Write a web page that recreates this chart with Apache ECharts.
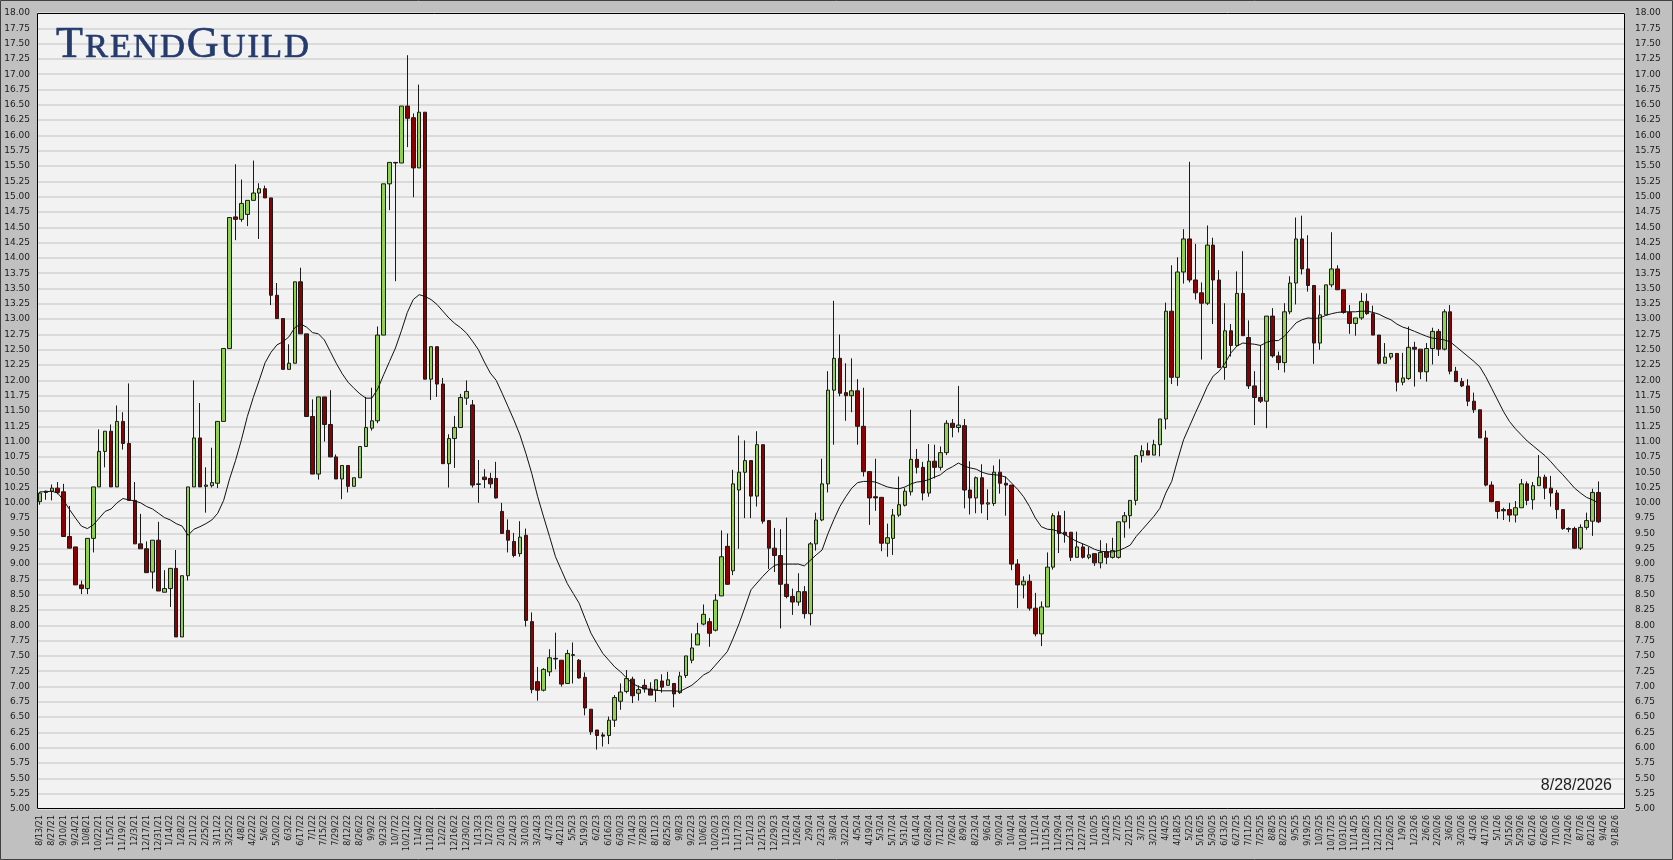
<!DOCTYPE html>
<html>
<head>
<meta charset="utf-8">
<script src="https://cdn.jsdelivr.net/npm/echarts@6/dist/echarts.min.js"></script>
<style>
html,body{margin:0;padding:0;background:#c0c0c0;}
#chart{width:1673px;height:860px;}
</style>
</head>
<body>
<div id="chart"></div>
<script>
// ---- Data (weekly candles, 8/13/21 .. 8/28/26) ----
const startDate = '2021-08-13';
const categoryCount = 268; // weekly slots through 9/25/26

const openValues = [
10.02,10.17,10.19,10.24,10.18,9.45,9.28,8.66,8.60,9.42,
10.26,10.84,11.17,10.26,11.33,10.97,10.04,9.33,9.25,8.87,
9.39,8.54,8.60,8.93,7.81,8.81,10.26,11.06,10.27,10.28,
10.32,11.33,12.52,14.67,14.63,14.71,14.94,15.06,15.13,14.98,
13.39,13.01,12.18,12.28,13.61,12.76,11.41,10.47,11.73,11.28,
10.75,10.39,10.61,10.27,10.41,10.92,11.22,11.34,12.74,15.21,
15.56,15.55,16.48,16.29,15.47,16.38,12.02,12.55,11.94,10.64,
11.05,11.23,11.71,11.60,10.30,10.42,10.40,10.40,9.86,9.55,
9.37,9.17,9.47,8.06,7.08,6.94,7.24,7.46,7.43,7.05,
7.52,7.43,7.15,6.63,6.29,6.21,6.20,6.45,6.76,6.92,
7.12,6.89,7.02,6.96,6.94,7.09,7.02,7.05,6.90,7.18,
7.43,7.68,8.02,8.06,7.92,8.48,9.29,8.89,10.21,10.50,
10.69,10.11,10.95,9.71,9.26,9.14,8.67,8.47,8.38,8.55,
8.19,9.33,9.72,10.31,11.84,12.36,11.80,11.75,11.83,11.25,
10.51,10.10,10.09,9.34,9.42,9.80,9.96,10.18,10.71,10.58,
10.16,10.68,10.58,10.82,11.30,11.23,11.26,10.21,10.08,10.41,
9.98,9.99,10.50,10.32,10.29,9.00,8.66,8.72,8.28,7.86,
8.30,8.95,9.79,9.52,9.52,9.11,9.28,9.11,9.17,9.02,
9.20,9.11,9.11,9.69,9.79,10.04,10.77,10.85,10.78,10.95,
11.37,13.13,12.05,13.77,14.31,13.64,13.43,13.26,14.21,13.64,
12.21,12.81,12.57,13.42,12.70,11.91,11.72,11.66,13.05,12.40,
12.29,13.12,13.59,14.31,13.82,13.55,12.61,13.07,13.56,13.82,
13.48,13.11,12.93,13.02,13.29,13.09,12.74,12.28,12.38,12.44,
11.97,12.03,12.54,12.51,12.14,12.52,12.80,12.51,13.12,12.15,
11.98,11.91,11.66,11.52,11.06,10.29,10.02,9.89,9.89,9.80,
9.92,10.31,10.05,10.28,10.42,10.24,10.16,9.89,9.58,9.58,
9.26,9.60,9.70,10.17];

const closeValues = [
10.16,10.19,10.24,10.17,9.45,9.26,8.66,8.60,9.42,10.26,
10.84,11.17,10.26,11.33,10.97,10.04,9.33,9.25,8.86,9.39,
8.56,8.60,8.93,7.81,8.81,10.26,11.06,10.26,10.29,10.33,
11.33,12.52,14.66,14.63,14.89,14.94,15.06,15.13,14.98,13.39,
13.01,12.18,12.28,13.61,12.76,11.41,10.47,11.73,11.28,10.75,
10.39,10.61,10.27,10.41,10.92,11.23,11.34,12.74,15.21,15.56,
15.55,16.48,16.28,15.47,16.38,12.02,12.55,11.94,10.64,11.05,
11.23,11.72,11.82,10.29,10.31,10.38,10.31,10.08,9.50,9.39,
9.14,9.44,8.08,6.95,6.94,7.28,7.47,7.45,7.04,7.54,
7.51,7.14,6.65,6.26,6.20,6.19,6.45,6.82,6.91,7.13,
6.85,6.95,6.96,6.86,7.11,6.99,7.11,6.88,7.17,7.50,
7.63,7.86,8.18,7.87,8.41,9.12,8.67,10.31,10.50,10.69,
10.11,10.95,9.70,9.26,9.14,8.67,8.47,8.38,8.55,8.19,
9.33,9.72,10.31,11.84,12.36,11.79,11.75,11.83,11.25,10.51,
10.08,10.08,9.34,9.43,9.80,9.97,10.19,10.71,10.58,10.16,
10.68,10.58,10.82,11.30,11.23,11.27,10.21,10.08,10.41,9.98,
10.00,10.50,10.32,10.29,9.00,8.66,8.72,8.28,7.86,8.30,
8.95,9.79,9.50,9.48,9.11,9.28,9.11,9.15,9.02,9.19,
9.11,9.22,9.69,9.79,10.04,10.77,10.85,10.78,10.95,11.37,
13.13,12.05,13.77,14.31,13.64,13.43,13.26,14.21,13.64,12.21,
12.81,12.57,13.42,12.73,11.91,11.72,11.66,13.05,12.40,12.29,
13.12,13.59,14.31,13.82,13.55,12.61,13.07,13.56,13.82,13.48,
13.11,12.93,13.02,13.29,13.09,12.74,12.28,12.38,12.44,11.97,
12.04,12.54,12.51,12.14,12.52,12.80,12.51,13.12,12.15,11.98,
11.91,11.66,11.52,11.06,10.29,10.02,9.86,9.87,9.80,9.92,
10.31,10.04,10.28,10.42,10.24,10.16,9.89,9.58,9.57,9.26,
9.60,9.71,10.17,9.69];

const lowValues = [
9.97,10.05,10.04,10.14,9.45,9.26,8.66,8.51,8.51,9.19,
10.26,10.58,10.26,10.26,10.87,10.04,9.33,9.25,8.86,8.60,
8.56,8.54,8.30,7.81,7.81,8.73,10.26,10.26,9.84,10.25,
10.24,11.33,12.52,14.29,14.59,14.52,14.94,14.31,14.98,13.23,
13.01,12.18,12.18,12.28,12.76,11.41,10.47,10.38,11.00,10.75,
10.39,10.06,10.17,10.27,10.41,10.92,11.18,11.30,12.74,14.78,
13.62,15.55,15.81,14.99,15.47,12.02,11.68,11.73,10.64,10.25,
10.57,11.23,11.60,10.25,10.00,10.24,10.24,10.07,9.50,9.19,
9.11,9.12,7.98,6.89,6.77,6.92,7.17,7.28,7.00,7.05,
7.05,7.13,6.53,6.21,5.97,6.02,6.06,6.34,6.62,6.89,
6.73,6.77,6.90,6.86,6.75,6.90,7.02,6.66,6.88,7.14,
7.38,7.68,8.00,7.65,7.90,8.48,8.66,8.82,9.25,9.75,
9.75,9.94,9.66,8.92,8.87,7.95,8.44,8.17,8.32,8.11,
8.00,9.22,9.70,10.17,10.95,11.74,11.34,11.48,10.95,10.43,
9.64,9.87,9.21,9.12,9.15,9.77,9.94,10.12,10.48,10.04,
10.10,10.40,10.53,10.78,11.07,11.15,9.91,9.81,9.83,9.83,
9.72,9.95,10.15,9.79,8.90,8.28,8.44,8.24,7.82,7.66,
8.30,8.91,9.18,9.35,9.05,9.11,9.09,9.08,8.97,8.93,
9.00,9.09,9.09,9.43,9.58,9.96,10.66,10.78,10.78,10.76,
11.20,11.94,11.91,13.58,13.60,13.32,12.34,13.23,12.92,12.21,
12.01,12.39,12.57,12.73,11.86,11.27,11.63,11.22,12.37,12.17,
12.13,13.08,13.24,13.73,13.45,12.27,12.50,13.07,13.52,13.48,
13.09,12.76,12.73,12.99,13.07,12.74,12.26,12.27,12.34,11.82,
11.92,12.01,11.90,12.02,11.98,12.26,12.40,12.49,12.10,11.98,
11.89,11.58,11.47,11.06,10.27,10.01,9.74,9.72,9.69,9.68,
9.92,9.96,9.89,10.28,10.06,9.94,9.74,9.56,9.52,9.25,
9.23,9.56,9.46,9.67];

const highValues = [
10.18,10.20,10.30,10.34,10.31,9.95,9.28,8.73,9.42,10.26,
11.20,11.17,11.28,11.59,11.48,11.95,10.34,9.82,9.37,9.39,
9.69,8.90,8.93,9.23,8.81,10.26,12.00,11.63,10.58,10.90,
11.33,12.52,14.66,15.53,15.28,14.94,15.59,15.22,15.18,14.98,
13.59,13.01,12.59,13.61,13.84,12.76,11.69,11.73,11.73,11.84,
10.79,10.61,10.61,10.41,10.92,11.73,11.88,12.88,15.21,15.56,
15.56,16.48,17.31,16.36,16.83,16.38,12.55,12.55,12.04,11.12,
11.42,11.78,12.00,11.68,10.70,10.55,10.49,10.67,10.00,9.73,
9.51,9.70,9.58,8.21,7.32,7.30,7.61,7.88,7.43,7.60,
7.72,7.45,7.23,6.63,6.29,6.25,6.51,6.86,7.05,7.27,
7.16,7.02,7.12,7.07,7.11,7.20,7.24,7.05,7.24,7.50,
7.87,8.04,8.34,8.12,8.51,9.55,9.50,10.54,11.10,11.02,
10.69,11.17,10.95,9.71,9.59,9.57,9.76,8.60,8.85,8.64,
9.36,9.84,10.72,12.15,13.30,12.75,12.28,12.36,12.02,11.88,
10.51,10.72,10.09,9.66,9.90,10.43,10.24,11.52,10.88,10.67,
10.96,10.95,10.92,11.35,11.37,11.91,11.37,10.68,10.43,10.63,
10.22,10.61,10.71,10.43,10.29,9.08,8.80,8.83,8.53,8.39,
9.19,9.83,9.86,9.87,9.52,9.53,9.34,9.28,9.17,9.39,
9.34,9.43,9.69,9.85,10.04,10.77,10.94,10.98,11.03,11.37,
13.27,13.88,14.01,14.47,15.57,14.23,13.60,14.53,14.33,13.80,
13.26,12.92,13.78,14.11,12.98,12.15,12.58,13.05,13.18,12.47,
13.26,13.70,14.66,14.69,14.37,13.55,13.39,13.56,14.42,13.88,
13.48,13.23,13.02,13.43,13.42,13.22,12.74,12.61,12.44,12.44,
12.45,12.88,12.63,12.51,12.61,12.86,12.84,13.16,13.23,12.22,
12.04,12.02,11.80,11.52,11.18,10.35,10.02,9.92,10.00,10.03,
10.39,10.35,10.34,10.78,10.46,10.44,10.21,9.89,9.60,9.61,
9.65,9.84,10.23,10.35];

const maValues = [
10.18,10.18,10.19,10.16,10.04,9.89,9.75,9.62,9.58,9.64,
9.75,9.86,9.90,10.00,10.07,10.05,10.03,10.00,9.94,9.90,
9.83,9.76,9.72,9.66,9.62,9.47,9.57,9.61,9.66,9.72,
9.83,10.04,10.39,10.69,11.03,11.41,11.72,12.00,12.29,12.46,
12.58,12.63,12.71,12.86,12.92,12.87,12.78,12.76,12.66,12.47,
12.28,12.11,11.97,11.87,11.78,11.71,11.71,11.86,12.09,12.31,
12.53,12.81,13.11,13.32,13.40,13.37,13.32,13.24,13.13,13.02,
12.93,12.86,12.77,12.64,12.50,12.30,12.12,12.00,11.79,11.57,
11.35,11.11,10.81,10.48,10.10,9.77,9.45,9.12,8.90,8.68,
8.52,8.36,8.11,7.87,7.70,7.54,7.43,7.32,7.24,7.14,
7.05,7.00,6.97,6.95,6.94,6.93,6.93,6.93,6.92,6.97,
7.02,7.10,7.19,7.24,7.35,7.46,7.57,7.79,8.03,8.30,
8.58,8.69,8.80,8.90,8.98,9.00,9.00,9.00,9.00,8.97,
9.06,9.15,9.23,9.50,9.73,9.94,10.10,10.24,10.33,10.35,
10.35,10.34,10.30,10.26,10.24,10.23,10.26,10.31,10.34,10.35,
10.38,10.42,10.46,10.54,10.59,10.65,10.60,10.57,10.55,10.50,
10.47,10.46,10.45,10.42,10.32,10.22,10.10,9.94,9.75,9.61,
9.57,9.56,9.53,9.48,9.42,9.37,9.33,9.29,9.24,9.21,
9.20,9.20,9.22,9.26,9.31,9.45,9.56,9.67,9.78,9.91,
10.16,10.35,10.70,11.03,11.25,11.47,11.68,11.90,12.07,12.15,
12.28,12.45,12.56,12.61,12.60,12.59,12.57,12.62,12.65,12.65,
12.72,12.83,12.94,12.99,13.02,13.01,13.02,13.06,13.09,13.11,
13.12,13.12,13.12,13.13,13.13,13.11,13.08,13.03,12.99,12.92,
12.87,12.84,12.80,12.76,12.72,12.69,12.68,12.66,12.63,12.55,
12.47,12.39,12.31,12.22,12.06,11.87,11.68,11.49,11.33,11.21,
11.11,11.01,10.93,10.85,10.77,10.67,10.56,10.46,10.35,10.24,
10.16,10.09,10.05,10.00];

const yMin = 5, yMax = 18, yStep = 0.25;
// logo letters: [letter, isLargeCap]
const logoLetters = [['T',1],['R',0],['E',0],['N',0],['D',0],['G',1],['U',0],['I',0],['L',0],['D',0]];
const dateStamp = '8/28/2026';

// weekly category labels M/D/YY
const categories = [];
{
  const p = startDate.split('-').map(Number);
  const t0 = Date.UTC(p[0], p[1] - 1, p[2]);
  for (let i = 0; i < categoryCount; i++) {
    const d = new Date(t0 + i * 7 * 86400000);
    categories.push((d.getUTCMonth() + 1) + '/' + d.getUTCDate() + '/' + String(d.getUTCFullYear()).slice(2));
  }
}

const candleData = openValues.map((o, i) => [o, closeValues[i], lowValues[i], highValues[i]]);

const chart = echarts.init(document.getElementById('chart'), null, {renderer: 'canvas'});
const G = {left: 37, top: 13, width: 1588, height: 796};

const yLabel = {
  fontFamily: 'DejaVu Sans', fontSize: 9, color: '#1a1a1a',
  formatter: v => v.toFixed(2)
};

const logoColor = '#253b6e';
const logoRich = {
  a: {fontFamily: 'Liberation Serif', fontWeight: 'normal', fontSize: 44, color: logoColor, lineHeight: 44, verticalAlign: 'bottom', padding: [0, 2, 0, 0], textBorderColor: logoColor, textBorderWidth: 0.7},
  b: {fontFamily: 'Liberation Serif', fontWeight: 'normal', fontSize: 34.5, color: logoColor, lineHeight: 44, verticalAlign: 'bottom', padding: [0, 2, 2, 0], textBorderColor: logoColor, textBorderWidth: 0.7}
};
const logoString = logoLetters.map(l => '{' + (l[1] ? 'a' : 'b') + '|' + l[0] + '}').join('');

chart.setOption({
  backgroundColor: '#c0c0c0',
  animation: false,
  title: {
    text: logoString,
    left: 51, top: 18,
    textStyle: {rich: logoRich}
  },
  grid: {left: G.left, top: G.top, width: G.width, height: G.height, show: true, backgroundColor: '#f2f2f2', borderWidth: 0, containLabel: false},
  xAxis: {
    type: 'category', data: categories, boundaryGap: true,
    axisLine: {show: false}, axisTick: {show: false},
    axisLabel: {interval: 1, rotate: 90, fontFamily: 'DejaVu Sans', fontSize: 8, color: '#1a1a1a', margin: 6},
    splitLine: {show: false}
  },
  yAxis: [{
    type: 'value', position: 'left', min: yMin, max: yMax, interval: yStep,
    axisLine: {show: false}, axisTick: {show: false},
    axisLabel: Object.assign({margin: 7}, yLabel),
    splitLine: {show: true, lineStyle: {color: '#dadada', width: 2}}
  }, {
    type: 'value', position: 'right', min: yMin, max: yMax, interval: yStep,
    axisLine: {show: false}, axisTick: {show: false},
    axisLabel: Object.assign({margin: 10}, yLabel),
    splitLine: {show: false}
  }],
  series: [{
    type: 'candlestick', data: candleData, barWidth: 4,
    itemStyle: {color: '#92d050', color0: '#8b0000', borderColor: '#1a1a1a', borderColor0: '#1a1a1a', borderWidth: 1}
  }, {
    type: 'line', data: maValues, showSymbol: false, symbol: 'none', smooth: false,
    lineStyle: {color: '#111111', width: 1}, z: 3
  }],
  graphic: [{
    type: 'rect', z: 100, silent: true,
    shape: {x: G.left + 0.5, y: G.top + 0.5, width: G.width - 1, height: G.height - 1},
    style: {fill: 'none', stroke: '#000', lineWidth: 1}
  }, {
    type: 'rect', z: 100, silent: true,
    shape: {x: 0.5, y: 0.5, width: 1672, height: 859},
    style: {fill: 'none', stroke: '#404040', lineWidth: 1}
  }, {
    type: 'text', z: 100, silent: true,
    style: {x: 1612, y: 786, text: dateStamp, fill: '#222', font: '16px "Liberation Sans"', textAlign: 'right', textVerticalAlign: 'middle', align: 'right', verticalAlign: 'middle'}
  }]
});
</script>
</body>
</html>
